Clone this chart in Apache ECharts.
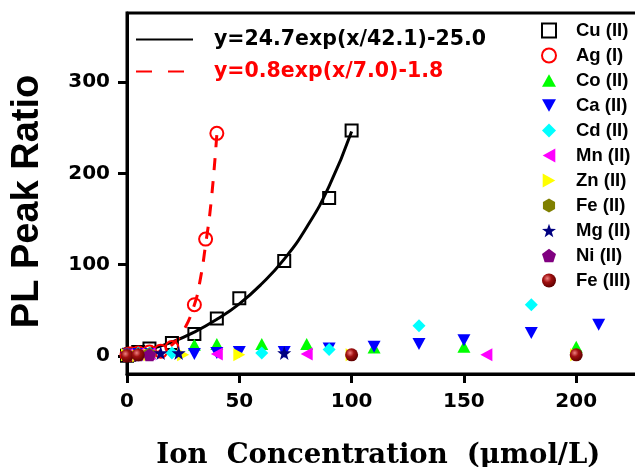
<!DOCTYPE html>
<html>
<head>
<meta charset="utf-8">
<script src="https://cdn.jsdelivr.net/npm/echarts@6/dist/echarts.min.js"></script>
<style>
  html, body { margin: 0; padding: 0; background: #fff; }
  #chart { width: 635px; height: 467px; }
</style>
</head>
<body>
<div id="chart"></div>
<script>
// ticks
var xTicks = [0, 50, 100, 150, 200];
var yTicks = [0, 100, 200, 300];

// fitted curves
var cuFitName = 'y=24.7exp(x/42.1)-25.0';
var agFitName = 'y=0.8exp(x/7.0)-1.8';
var cuFit = [[0, 0], [10, 7], [20, 15], [30, 26], [40, 40], [50, 57], [60, 79], [70, 106], [80, 141], [90, 186], [100, 246]];
var agFit = [[0, -1], [5, 0], [10, 2], [15, 5], [20, 12], [25, 27], [30, 56], [32.5, 82], [35, 122], [37.5, 170], [40, 243]];

// measured points per ion
var ions = ['Cu (II)', 'Ag (I)', 'Co (II)', 'Ca (II)', 'Cd (II)', 'Mn (II)', 'Zn (II)', 'Fe (II)', 'Mg (II)', 'Ni (II)', 'Fe (III)'];
var cuData = [[0, 0], [1, 1], [2, 2], [5, 4], [10, 8], [20, 14], [30, 24], [40, 41], [50, 63], [70, 104], [90, 173], [100, 247]];
var agData = [[0, 1], [1, 2], [2, 2], [5, 3], [10, 4], [15, 5], [20, 9], [30, 56], [35, 128], [40, 244]];
var coData = [[0, 1], [2, 2], [5, 2], [10, 3], [30, 12], [40, 13], [60, 13], [80, 13], [110, 9], [150, 10], [200, 10]];
var caData = [[0, 1], [2, 1], [5, 2], [10, 2], [30, 2], [40, 3], [50, 4], [70, 4], [90, 8], [110, 10], [130, 13], [150, 17], [180, 25], [210, 34]];
var cdData = [[0, 2], [5, 3], [10, 3], [20, 3], [60, 3], [90, 7], [130, 33], [180, 56]];
var mnData = [[0, 1], [5, 2], [10, 2], [40, 2], [80, 2], [160, 1]];
var znData = [[0, 1], [5, 0], [10, 1], [25, 1], [50, 1], [100, 1], [200, 1]];
var fe2Data = [[0, 1], [5, 1], [10, 2]];
var mgData = [[0, 2], [5, 2], [15, 3], [23, 3], [70, 3]];
var niData = [[0, 1], [5, 1], [10, 1]];
var fe3Data = [[0, 0], [5, 1], [100, 1], [200, 1]];

var sphere = {
  type: 'radial', x: 0.38, y: 0.35, r: 0.65,
  colorStops: [
    { offset: 0, color: '#f08080' },
    { offset: 0.45, color: '#a01010' },
    { offset: 1, color: '#600000' }
  ]
};

var looks = [
  { data: cuData, symbol: 'rect', size: 12, color: 'rgba(255,255,255,0)', border: '#000', bw: 2 },
  { data: agData, symbol: 'circle', size: 13, color: 'rgba(255,255,255,0)', border: '#ff0000', bw: 2 },
  { data: coData, symbol: 'path://M5,0 L10,9 L0,9 Z', size: [13, 12], color: '#00ff00' },
  { data: caData, symbol: 'path://M0,0 L10,0 L5,9 Z', size: [13, 12], color: '#0000ff' },
  { data: cdData, symbol: 'diamond', size: 13, color: '#00ffff' },
  { data: mnData, symbol: 'path://M9,0 L9,10 L0,5 Z', size: [12, 13], color: '#ff00ff' },
  { data: znData, symbol: 'path://M0,0 L0,10 L9,5 Z', size: [12, 13], color: '#ffff00' },
  { data: fe2Data, symbol: 'path://M5,0 L9.33,2.5 L9.33,7.5 L5,10 L0.67,7.5 L0.67,2.5 Z', size: [12, 13], color: '#808000' },
  { data: mgData, symbol: 'path://M5,0 L6.18,3.38 L9.76,3.45 L6.9,5.62 L7.94,9.05 L5,7 L2.06,9.05 L3.1,5.62 L0.24,3.45 L3.82,3.38 Z', size: 14, color: '#000080' },
  { data: niData, symbol: 'path://M5,0 L9.76,3.45 L7.94,9.05 L2.06,9.05 L0.24,3.45 Z', size: 13, color: '#800080' },
  { data: fe3Data, symbol: 'circle', size: 13, color: sphere }
];

var series = [
  {
    name: cuFitName, type: 'line', data: cuFit, smooth: 0.5,
    showSymbol: false, symbol: 'none', z: 1,
    lineStyle: { color: '#000', width: 3 }, itemStyle: { color: '#000' }
  },
  {
    name: agFitName, type: 'line', data: agFit, smooth: 0.5,
    showSymbol: false, symbol: 'none', z: 1,
    lineStyle: { color: '#ff0000', width: 3, type: [12, 11] }, itemStyle: { color: '#ff0000' }
  }
];

ions.forEach(function each(name, i) {
  var l = looks[i];
  series.push({
    name: name,
    type: 'scatter',
    data: l.data,
    symbol: l.symbol,
    symbolSize: l.size,
    z: 2 + i,
    itemStyle: {
      color: l.color,
      borderColor: l.border || l.color,
      borderWidth: l.bw || 0,
      opacity: 1
    }
  });
});

var chart = echarts.init(document.getElementById('chart'));
chart.setOption({
  animation: false,
  backgroundColor: '#fff',
  grid: {
    left: 127, top: 13, right: -8.6, bottom: 93,
    outerBoundsMode: 'none', containLabel: false,
    show: true, borderColor: '#000', borderWidth: 3, backgroundColor: 'rgba(0,0,0,0)'
  },
  legend: [
    {
      orient: 'vertical', left: 135, top: 29, padding: 0,
      itemWidth: 57, itemHeight: 14, itemGap: 11,
      selectedMode: false,
      itemStyle: { opacity: 0, color: 'rgba(0,0,0,0)', borderWidth: 0 },
      textStyle: { fontFamily: 'DejaVu Sans', fontWeight: 'bold', fontSize: 20.5, lineHeight: 20, padding: [0, 0, 0, 16] },
      data: [
        { name: cuFitName, textStyle: { color: '#000' } },
        { name: agFitName, textStyle: { color: '#ff0000' }, lineStyle: { type: [16, 16] } }
      ]
    },
    {
      orient: 'vertical', left: 541, top: 21, padding: 0,
      itemWidth: 14, itemHeight: 14, itemGap: 6,
      selectedMode: false,
      textStyle: { fontFamily: 'Liberation Sans', fontWeight: 'bold', fontSize: 18.5, lineHeight: 14, color: '#000', padding: [0, 0, 0, 15] },
      data: ions
    }
  ],
  xAxis: {
    type: 'value', min: 0, max: 230,
    name: 'Ion  Concentration  (\u03bcmol/L)',
    nameLocation: 'middle', nameGap: 68,
    nameTextStyle: { fontFamily: 'DejaVu Serif', fontWeight: 'bold', fontSize: 27.5, color: '#000', padding: [0, 14, 0, 0] },
    axisLine: { onZero: false, lineStyle: { color: '#000', width: 3 } },
    axisTick: { customValues: xTicks, length: 9, lineStyle: { width: 3, color: '#000' } },
    axisLabel: { customValues: xTicks, margin: 18, fontFamily: 'DejaVu Sans', fontWeight: 'bold', fontSize: 20, color: '#000' },
    splitLine: { show: false }
  },
  yAxis: {
    type: 'value', min: -20, max: 376,
    name: 'PL Peak Ratio',
    nameLocation: 'middle', nameGap: 80,
    nameTextStyle: { fontFamily: 'Liberation Sans', fontWeight: 'bold', fontSize: 38, color: '#000', padding: [0, 16, 0, 0] },
    axisLine: { onZero: false, lineStyle: { color: '#000', width: 3 } },
    axisTick: { customValues: yTicks, length: 9, lineStyle: { width: 3, color: '#000' } },
    axisLabel: { customValues: yTicks, margin: 17, fontFamily: 'DejaVu Sans', fontWeight: 'bold', fontSize: 20, color: '#000' },
    splitLine: { show: false }
  },
  series: series
});
</script>
</body>
</html>
